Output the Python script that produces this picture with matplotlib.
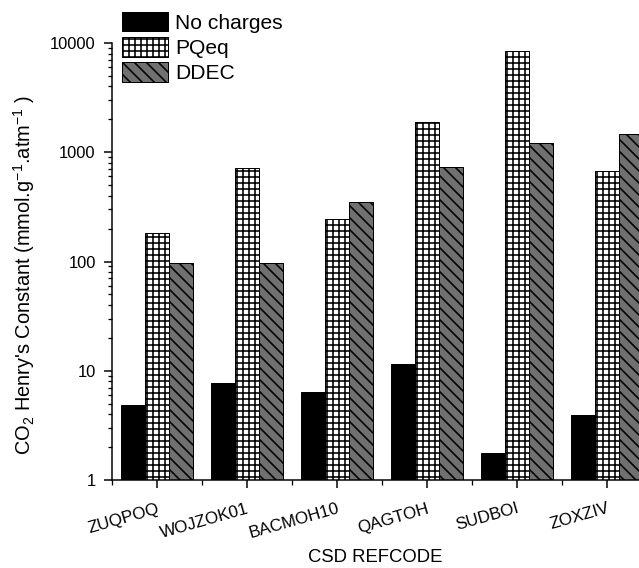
import matplotlib
matplotlib.use("Agg")
import matplotlib.pyplot as plt
from matplotlib.ticker import FixedLocator, NullFormatter

refcodes = ["ZUQPOQ", "WOJZOK01", "BACMOH10", "QAGTOH", "SUDBOI", "ZOXZIV"]
no_charges = [4.9, 7.7, 6.4, 11.5, 1.78, 3.9]
pqeq = [184, 713, 243, 1905, 8500, 678]
ddec = [96, 96, 352, 728, 1207, 1469]
y_ticks = [1, 10, 100, 1000, 10000]

plt.rcParams["font.family"] = ["Liberation Sans", "DejaVu Sans"]
plt.rcParams["mathtext.default"] = "regular"
plt.rcParams["hatch.linewidth"] = 1.6

fig = plt.figure(figsize=(639 / 72, 568 / 72), dpi=72)
ax = fig.add_axes([111.7 / 639, 88 / 568, 527.3 / 639, 437 / 568])

x = list(range(1, len(refcodes) + 1))
w = 0.267
ax.bar([i - w for i in x], no_charges, w, color="black", edgecolor="black",
       linewidth=1, label="No charges")
ax.bar(x, pqeq, w, color="white", edgecolor="black", hatch="++",
       linewidth=1, label="PQeq")
# diagonal lines roughly 12 px apart, like the original
ax.bar([i + w for i in x], ddec, w, color="#707070", edgecolor="black",
       hatch="\\\\", linewidth=1, label="DDEC")

ax.set_yscale("log")
ax.set_ylim(1, 10000)
ax.set_xlim(0.5, 0.5 + 527.3 / 90)
ax.yaxis.set_major_locator(FixedLocator(y_ticks))
ax.set_yticklabels([str(t) for t in y_ticks])
ax.yaxis.set_minor_formatter(NullFormatter())

ax.set_xticks(x)
ax.set_xticklabels(refcodes, rotation=16, ha="right", va="top",
                   rotation_mode="anchor")
ax.xaxis.set_minor_locator(FixedLocator([i + 0.5 for i in range(0, 7)]))

for s in ["top", "right"]:
    ax.spines[s].set_visible(False)
for s in ["left", "bottom"]:
    ax.spines[s].set_linewidth(1.5)

ax.tick_params(axis="both", which="major", direction="out", length=8,
               width=1.5, labelsize=16.5)
ax.tick_params(axis="y", which="major", pad=8)
ax.tick_params(axis="x", which="major", pad=13, labelsize=17)
ax.tick_params(axis="both", which="minor", direction="out", length=4.5,
               width=1.3)

ax.set_xlabel("CSD REFCODE", fontsize=18.5, labelpad=8)
ax.set_ylabel("CO$_2$ Henry's Constant (mmol.g$^{-1}$.atm$^{-1}$ )",
              fontsize=20)
ax.yaxis.set_label_coords((37 - 111.7) / 527.3, 0.47)

fig.legend(loc="upper left", bbox_to_anchor=(122 / 639, 1 - 12 / 568),
           frameon=False, fontsize=21, handlelength=2.2, handleheight=1.05,
           labelspacing=0.2, handletextpad=0.33, borderpad=0,
           borderaxespad=0)

fig.savefig("out.png", dpi=72)
